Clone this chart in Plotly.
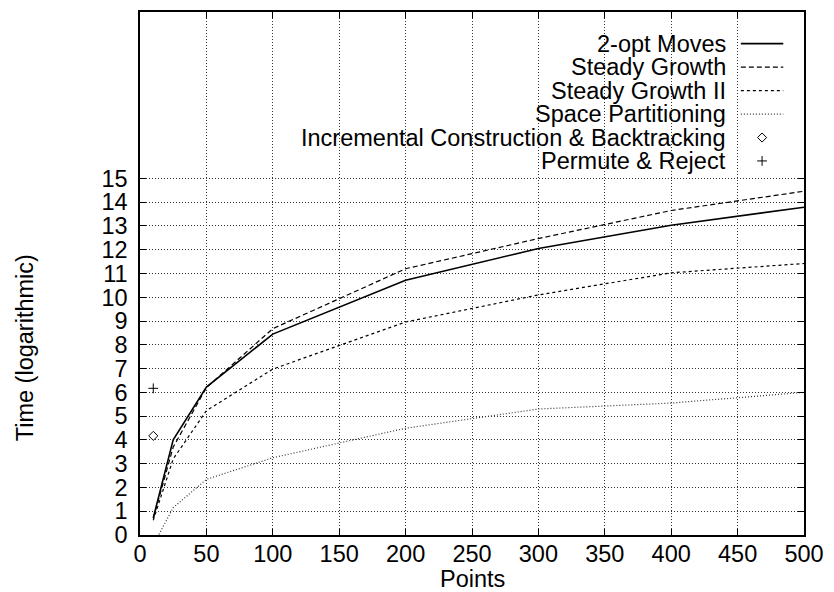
import plotly.graph_objects as go

# Problem sizes (number of points) and log-time results per algorithm
points = [10, 25, 50, 100, 200, 300, 400, 500]
two_opt = [0.72, 4.0, 6.22, 8.45, 10.72, 12.05, 13.03, 13.79]
steady_growth = [0.70, 3.7, 6.20, 8.68, 11.20, 12.47, 13.65, 14.46]
steady_growth_2 = [0.62, 3.2, 5.23, 6.98, 8.96, 10.10, 11.03, 11.42]
space_partitioning = [-0.42, 1.15, 2.34, 3.25, 4.49, 5.30, 5.55, 6.00]

incremental_x = [10]
incremental_y = [4.17]
permute_x = [10]
permute_y = [6.17]

x_ticks = [0, 50, 100, 150, 200, 250, 300, 350, 400, 450, 500]
y_ticks = list(range(0, 16))

FONT = "Liberation Sans, Arial, Helvetica, sans-serif"
FS = 23.5

W, H = 834, 592
L, R, T, B = 140, 21, 10, 57
PW, PH = W - L - R, H - T - B


def px(x):
    return (x - L) / PW


def py(y):
    return (H - B - y) / PH


series = [
    ("2-opt Moves", two_opt, dict(color="black", width=1.6, dash="solid")),
    ("Steady Growth", steady_growth, dict(color="black", width=1.2, dash="5px,3px")),
    ("Steady Growth II", steady_growth_2, dict(color="black", width=1.2, dash="3px,3px")),
    ("Space Partitioning", space_partitioning, dict(color="#333", width=1.2, dash="1px,2px")),
]

fig = go.Figure()
for name, ys, line in series:
    fig.add_trace(go.Scatter(x=points, y=ys, mode="lines", name=name, line=line,
                             showlegend=False))

fig.add_trace(go.Scatter(x=incremental_x, y=incremental_y, mode="markers",
                         name="Incremental Construction & Backtracking",
                         marker=dict(symbol="diamond-open", size=7, color="black",
                                     line=dict(width=1)),
                         showlegend=False))
fig.add_trace(go.Scatter(x=permute_x, y=permute_y, mode="markers",
                         name="Permute & Reject",
                         marker=dict(symbol="cross-thin-open", size=7, color="black",
                                     line=dict(width=1, color="black")),
                         showlegend=False))

# Key: right-aligned labels with the sample to their right
key_rows = [41.7, 65.3, 89, 112.5, 136, 159.5]
key_text_x = 736
key_x0, key_x1 = 749, 792
labels = [s[0] for s in series] + ["Incremental Construction & Backtracking",
                                   "Permute & Reject"]
for i, lab in enumerate(labels):
    fig.add_annotation(x=px(key_text_x), y=py(key_rows[i]), xref="paper", yref="paper",
                       text=lab, showarrow=False, xanchor="right", yanchor="middle",
                       font=dict(family=FONT, size=FS, color="black"))
for i, (name, ys, line) in enumerate(series):
    fig.add_trace(go.Scatter(x=[px(key_x0), px(key_x1)], y=[py(key_rows[i])] * 2,
                             xaxis="x2", yaxis="y2", mode="lines", line=line,
                             showlegend=False, hoverinfo="skip"))
fig.add_trace(go.Scatter(x=[px((key_x0 + key_x1) / 2)], y=[py(key_rows[4])],
                         xaxis="x2", yaxis="y2", mode="markers",
                         marker=dict(symbol="diamond-open", size=7, color="black",
                                     line=dict(width=1)),
                         showlegend=False, hoverinfo="skip"))
fig.add_trace(go.Scatter(x=[px((key_x0 + key_x1) / 2)], y=[py(key_rows[5])],
                         xaxis="x2", yaxis="y2", mode="markers",
                         marker=dict(symbol="cross-thin-open", size=7, color="black",
                                     line=dict(width=1, color="black")),
                         showlegend=False, hoverinfo="skip"))

# Axis titles
fig.add_annotation(x=0.5, y=py(579), xref="paper", yref="paper", text="Points",
                   showarrow=False, xanchor="center", yanchor="middle",
                   font=dict(family=FONT, size=FS, color="black"))
fig.add_annotation(x=px(23), y=py(347), xref="paper", yref="paper",
                   text="Time (logarithmic)", textangle=-90, showarrow=False,
                   xanchor="center", yanchor="middle",
                   font=dict(family=FONT, size=FS, color="black"))

axis_common = dict(
    showline=True, linecolor="black", linewidth=1.5, mirror="allticks",
    ticks="inside", ticklen=6, tickwidth=1, tickcolor="black",
    showgrid=True, gridcolor="#333", gridwidth=1, griddash="1px,2px",
    zeroline=False, tickfont=dict(family=FONT, size=FS, color="black"),
)

fig.update_layout(
    width=W, height=H,
    margin=dict(l=L, r=R, t=T, b=B),
    paper_bgcolor="white", plot_bgcolor="white",
    xaxis=dict(range=[0, 500], tickvals=x_ticks, ticklabelstandoff=-3, **axis_common),
    yaxis=dict(range=[0, 22], tickvals=y_ticks, ticklabelstandoff=6, **axis_common),
    xaxis2=dict(range=[0, 1], overlaying="x", visible=False),
    yaxis2=dict(range=[0, 1], overlaying="y", visible=False),
    showlegend=False,
)

fig.write_html("out.html")
